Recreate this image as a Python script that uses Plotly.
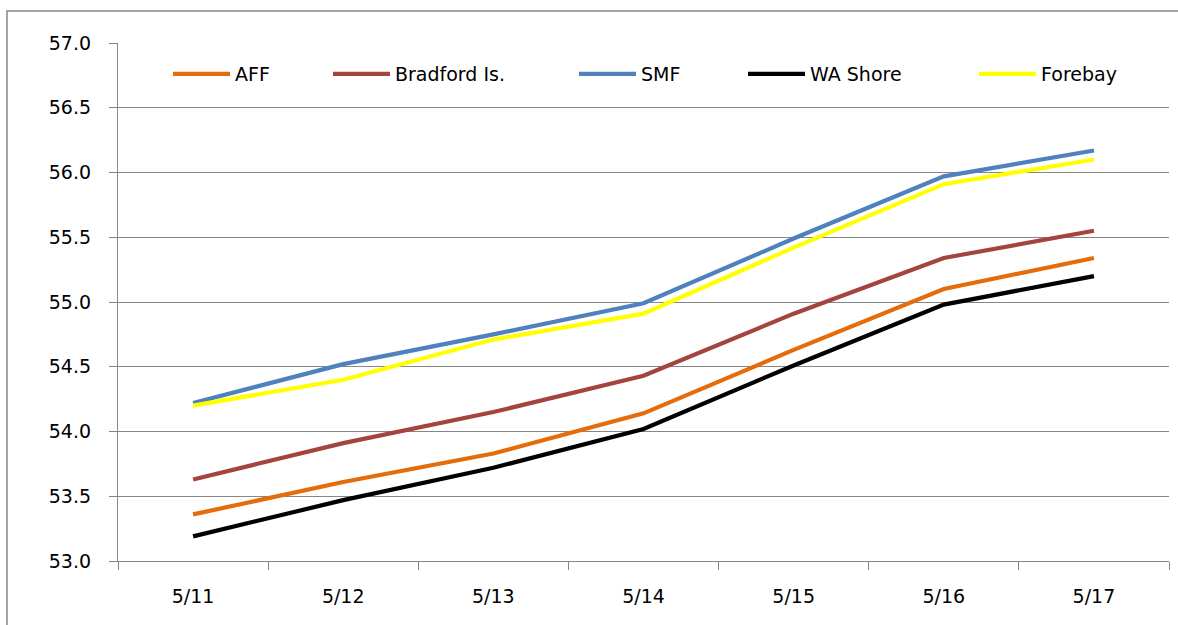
import plotly.graph_objects as go

# ---- data ----
dates = ["5/11", "5/12", "5/13", "5/14", "5/15", "5/16", "5/17"]
aff = [53.36, 53.61, 53.83, 54.14, 54.63, 55.10, 55.34]
bradford = [53.63, 53.91, 54.15, 54.43, 54.91, 55.34, 55.55]
smf = [54.22, 54.52, 54.75, 54.99, 55.49, 55.97, 56.17]
wa_shore = [53.19, 53.47, 53.72, 54.02, 54.51, 54.98, 55.20]
forebay = [54.20, 54.40, 54.71, 54.91, 55.42, 55.91, 56.10]
series_names = ["AFF", "Bradford Is.", "SMF", "WA Shore", "Forebay"]
y_ticks = [53.0, 53.5, 54.0, 54.5, 55.0, 55.5, 56.0, 56.5, 57.0]

# ---- style ----
series_values = [aff, bradford, smf, wa_shore, forebay]
colors = ["#E46C0A", "#A5433F", "#4F81BD", "#000000", "#FFFF00"]
legend_ids = ["legend", "legend2", "legend3", "legend4", "legend5"]
legend_line_start_px = [175, 335, 581, 750, 981]

W, H = 1178, 625
ML, MR, MT, MB = 118, 9, 43, 64
PW = W - ML - MR
PH = H - MT - MB
GRAY = "#868686"
FONT = "DejaVu Sans"

fig = go.Figure()
for name, vals, col, lid in zip(series_names, series_values, colors, legend_ids):
    fig.add_trace(go.Scatter(
        x=dates, y=vals, name=name, mode="lines",
        line=dict(color=col, width=4.2),
        legend=lid,
    ))

legend_layout = {}
for lid, px in zip(legend_ids, legend_line_start_px):
    legend_layout[lid] = dict(
        x=(px - 7 - ML) / PW, xanchor="left",
        y=(H - MB - 74) / PH, yanchor="middle",
        orientation="h", bgcolor="rgba(0,0,0,0)",
        font=dict(family=FONT, size=19, color="black"),
        itemwidth=57,
    )

fig.update_layout(
    width=W, height=H,
    margin=dict(l=ML, r=MR, t=MT, b=MB, pad=0),
    paper_bgcolor="white", plot_bgcolor="white",
    font=dict(family=FONT, size=19, color="black"),
    showlegend=True,
    xaxis=dict(
        type="category", range=[-0.5, 6.5], tickson="boundaries",
        ticks="outside", ticklen=8, tickcolor=GRAY, tickwidth=1,
        showline=True, linecolor=GRAY, linewidth=1.3,
        showgrid=False, zeroline=False,
        tickfont=dict(family=FONT, size=19, color="black"),
        ticklabelstandoff=18,
    ),
    yaxis=dict(
        range=[53, 57], tickvals=y_ticks, tickformat=".1f",
        ticks="outside", ticklen=8, tickcolor=GRAY, tickwidth=1,
        showline=True, linecolor=GRAY, linewidth=1.3,
        showgrid=True, gridcolor=GRAY, gridwidth=1.3, zeroline=False,
        tickfont=dict(family=FONT, size=19, color="black"),
        ticklabelstandoff=14,
    ),
    shapes=[dict(
        type="rect", xref="paper", yref="paper",
        x0=(7 - ML) / PW, x1=1.05,
        y0=-0.3, y1=(H - MB - 11) / PH,
        line=dict(color=GRAY, width=1.5), fillcolor="rgba(0,0,0,0)",
        layer="below",
    )],
    **legend_layout,
)

fig.write_html(
    "out.html",
    config={"displayModeBar": False},
    post_script="document.body.style.margin='0';document.body.style.overflow='hidden';",
)
